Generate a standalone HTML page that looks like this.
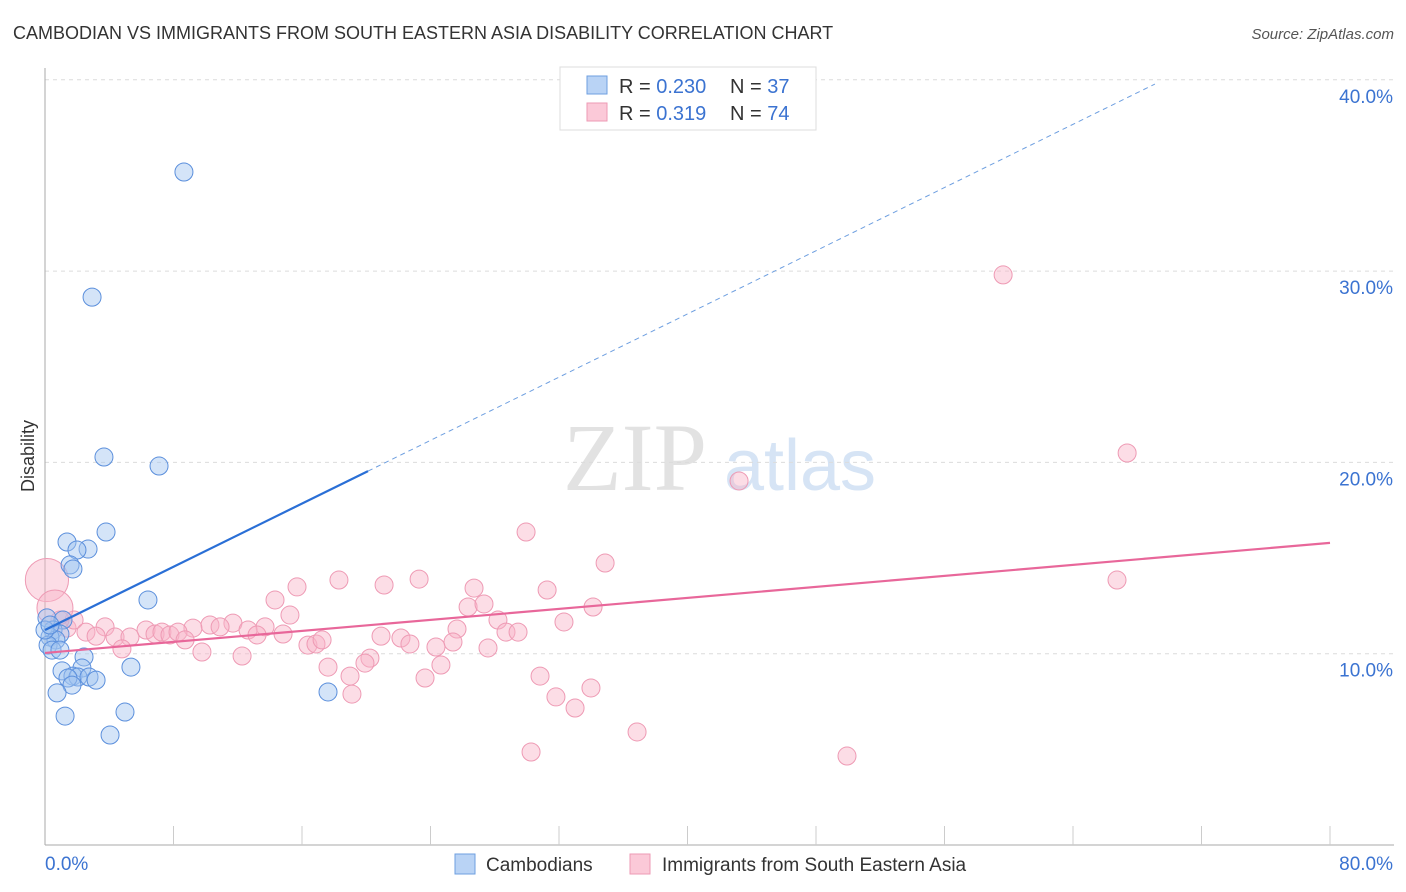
<!DOCTYPE html>
<html><head><meta charset="utf-8"><style>
body{margin:0;background:#fff;font-family:"Liberation Sans",sans-serif}
svg{display:block}
</style></head><body>
<svg id="chart" width="1406" height="892">
<text x="13" y="39" font-size="18" fill="#333">CAMBODIAN VS IMMIGRANTS FROM SOUTH EASTERN ASIA DISABILITY CORRELATION CHART</text>
<text x="1394" y="39" font-size="15" fill="#555" font-style="italic" text-anchor="end">Source: ZipAtlas.com</text>
<g><text x="635" y="490" font-size="96" fill="#e2e2e2" font-family="Liberation Serif,serif" text-anchor="middle">ZIP</text><text x="800" y="490" font-size="72" fill="#d6e4f5" text-anchor="middle">atlas</text></g>
<g id="grid"></g><g id="axes"></g><g id="marks"></g>
<text transform="translate(34,456) rotate(-90)" font-size="18" fill="#333" text-anchor="middle">Disability</text>
<g>
<rect x="560" y="67" width="256" height="63" fill="#fff" stroke="#ddd"/>
<rect x="587" y="76" width="20" height="18" fill="#b9d3f5" stroke="#6e9fe0"/>
<rect x="587" y="103" width="20" height="18" fill="#fbc9d8" stroke="#ee9ab4"/>
<text x="619" y="93" font-size="20" fill="#333">R = <tspan fill="#3b73d1">0.230</tspan></text>
<text x="730" y="93" font-size="20" fill="#333">N = <tspan fill="#3b73d1">37</tspan></text>
<text x="619" y="120" font-size="20" fill="#333">R = <tspan fill="#3b73d1"> 0.319</tspan></text>
<text x="730" y="120" font-size="20" fill="#333">N = <tspan fill="#3b73d1">74</tspan></text>
</g>
<g>
<rect x="455" y="854" width="20" height="20" fill="#b9d3f5" stroke="#6e9fe0"/>
<text x="486" y="871" font-size="19" fill="#333">Cambodians</text>
<rect x="630" y="854" width="20" height="20" fill="#fbc9d8" stroke="#ee9ab4"/>
<text x="662" y="871" font-size="19" fill="#333">Immigrants from South Eastern Asia</text>
</g>
</svg>
<script>
const blueX=[8.65,2.93,3.67,7.10,3.80,1.37,2.68,1.99,1.56,1.74,6.41,0.12,1.12,0.50,0.93,0.31,0.68,0.19,0.44,0.93,2.43,2.30,1.06,5.35,1.74,2.05,1.43,2.74,3.18,1.68,0.75,17.62,4.98,1.25,4.05,0,0.31];
const blueY=[35.18,28.64,20.28,19.81,16.36,15.84,15.47,15.42,14.64,14.43,12.81,11.87,11.76,11.24,11.03,10.87,10.72,10.45,10.19,10.19,9.83,9.25,9.10,9.30,8.83,8.78,8.73,8.78,8.62,8.36,7.95,8.00,6.95,6.74,5.75,11.24,11.50];
const pinkX=[59.65,67.37,43.21,29.95,34.87,66.74,15.69,18.30,21.11,23.29,26.71,31.26,14.32,26.34,27.33,34.12,15.25,28.20,32.31,11.70,10.27,3.74,6.29,9.21,10.90,13.70,12.64,1.37,1.81,0.93,2.55,3.18,4.36,5.29,6.85,7.28,7.78,8.28,8.72,13.20,14.82,20.92,22.16,22.72,25.65,28.70,29.45,25.40,24.34,4.79,9.77,12.27,16.37,16.87,17.25,27.58,17.62,20.23,19.92,24.65,23.66,18.99,19.11,30.82,33.99,31.81,33.00,36.86,30.26,49.93,0.12,0.62];
const pinkY=[29.80,20.49,19.03,16.36,14.74,13.85,13.49,13.85,13.59,13.90,13.43,13.33,12.81,12.44,12.60,12.44,12.02,11.76,11.66,11.60,11.50,11.40,11.24,11.34,11.40,11.40,11.24,11.34,11.76,11.76,11.13,10.92,10.87,10.87,11.03,11.13,10.98,11.13,10.72,10.98,11.03,10.92,10.82,10.51,11.29,11.13,11.13,10.61,10.35,10.25,10.09,9.88,10.45,10.51,10.72,10.30,9.30,9.77,9.51,9.41,8.73,8.83,7.89,8.83,8.21,7.74,7.16,5.91,4.86,4.65,13.85,12.39];
const pinkSize=pinkX.map((_,i)=>i===70?2.4:(i===71?2:1));
const blueTrend=[11.24,0.413];
const pinkTrend=[10.04,0.0719];
const yTicks=[10,20,30,40];
const NS="http://www.w3.org/2000/svg";
const X=v=>45+v/80*1285, Y=v=>845-v*19.13;
function mk(tag,attrs,parent){const e=document.createElementNS(NS,tag);for(const k in attrs)e.setAttribute(k,attrs[k]);document.getElementById(parent).appendChild(e);return e;}
yTicks.forEach(t=>{
 const l=mk('line',{x1:45,x2:1394,y1:Y(t),y2:Y(t),stroke:'#dcdcdc','stroke-dasharray':'4,4'},'grid');
 
 
 const tx=mk('text',{x:1393,y:Y(t)+23,'font-size':19,fill:'#3b73d1','text-anchor':'end'},'grid');
 tx.textContent=t.toFixed(1)+'%';
 
 
});
mk('line',{x1:45,x2:45,y1:68,y2:845,stroke:'#aaa'},'axes');
mk('line',{x1:45,x2:1394,y1:845,y2:845,stroke:'#aaa'},'axes');
for(let i=1;i<=10;i++){const t=mk('line',{x1:X(i*8),x2:X(i*8),y1:826,y2:845,stroke:'#ccc'},'axes');
 
 }
const x0=mk('text',{x:45,y:870,'font-size':19,fill:'#3b73d1'},'axes');x0.textContent='0.0%';


const x1=mk('text',{x:1393,y:870,'font-size':19,fill:'#3b73d1','text-anchor':'end'},'axes');x1.textContent='80.0%';


pinkX.forEach((v,i)=>{const c=mk('circle',{cx:X(v),cy:Y(pinkY[i]),r:9*pinkSize[i],fill:'rgba(248,180,200,0.45)',stroke:'#ee9ab4','stroke-width':1},'marks');
 
 });
blueX.forEach((v,i)=>{const c=mk('circle',{cx:X(v),cy:Y(blueY[i]),r:9,fill:'rgba(160,195,240,0.45)',stroke:'#5b8fdc','stroke-width':1},'marks');
 
 });
const bl=mk('line',{x1:X(0),y1:Y(blueTrend[0]),x2:X(20.11),y2:Y(blueTrend[0]+blueTrend[1]*20.11),stroke:'#2a6fd6','stroke-width':2.2},'marks');


const bd=mk('line',{x1:X(20.11),y1:Y(blueTrend[0]+blueTrend[1]*20.11),x2:X(69.1),y2:Y(blueTrend[0]+blueTrend[1]*69.1),stroke:'#6e9fe0','stroke-width':1,'stroke-dasharray':'5,4'},'marks');


const pl=mk('line',{x1:X(0),y1:Y(pinkTrend[0]),x2:X(80),y2:Y(pinkTrend[0]+pinkTrend[1]*80),stroke:'#e8679a','stroke-width':2.2},'marks');


</script>
</body></html>
